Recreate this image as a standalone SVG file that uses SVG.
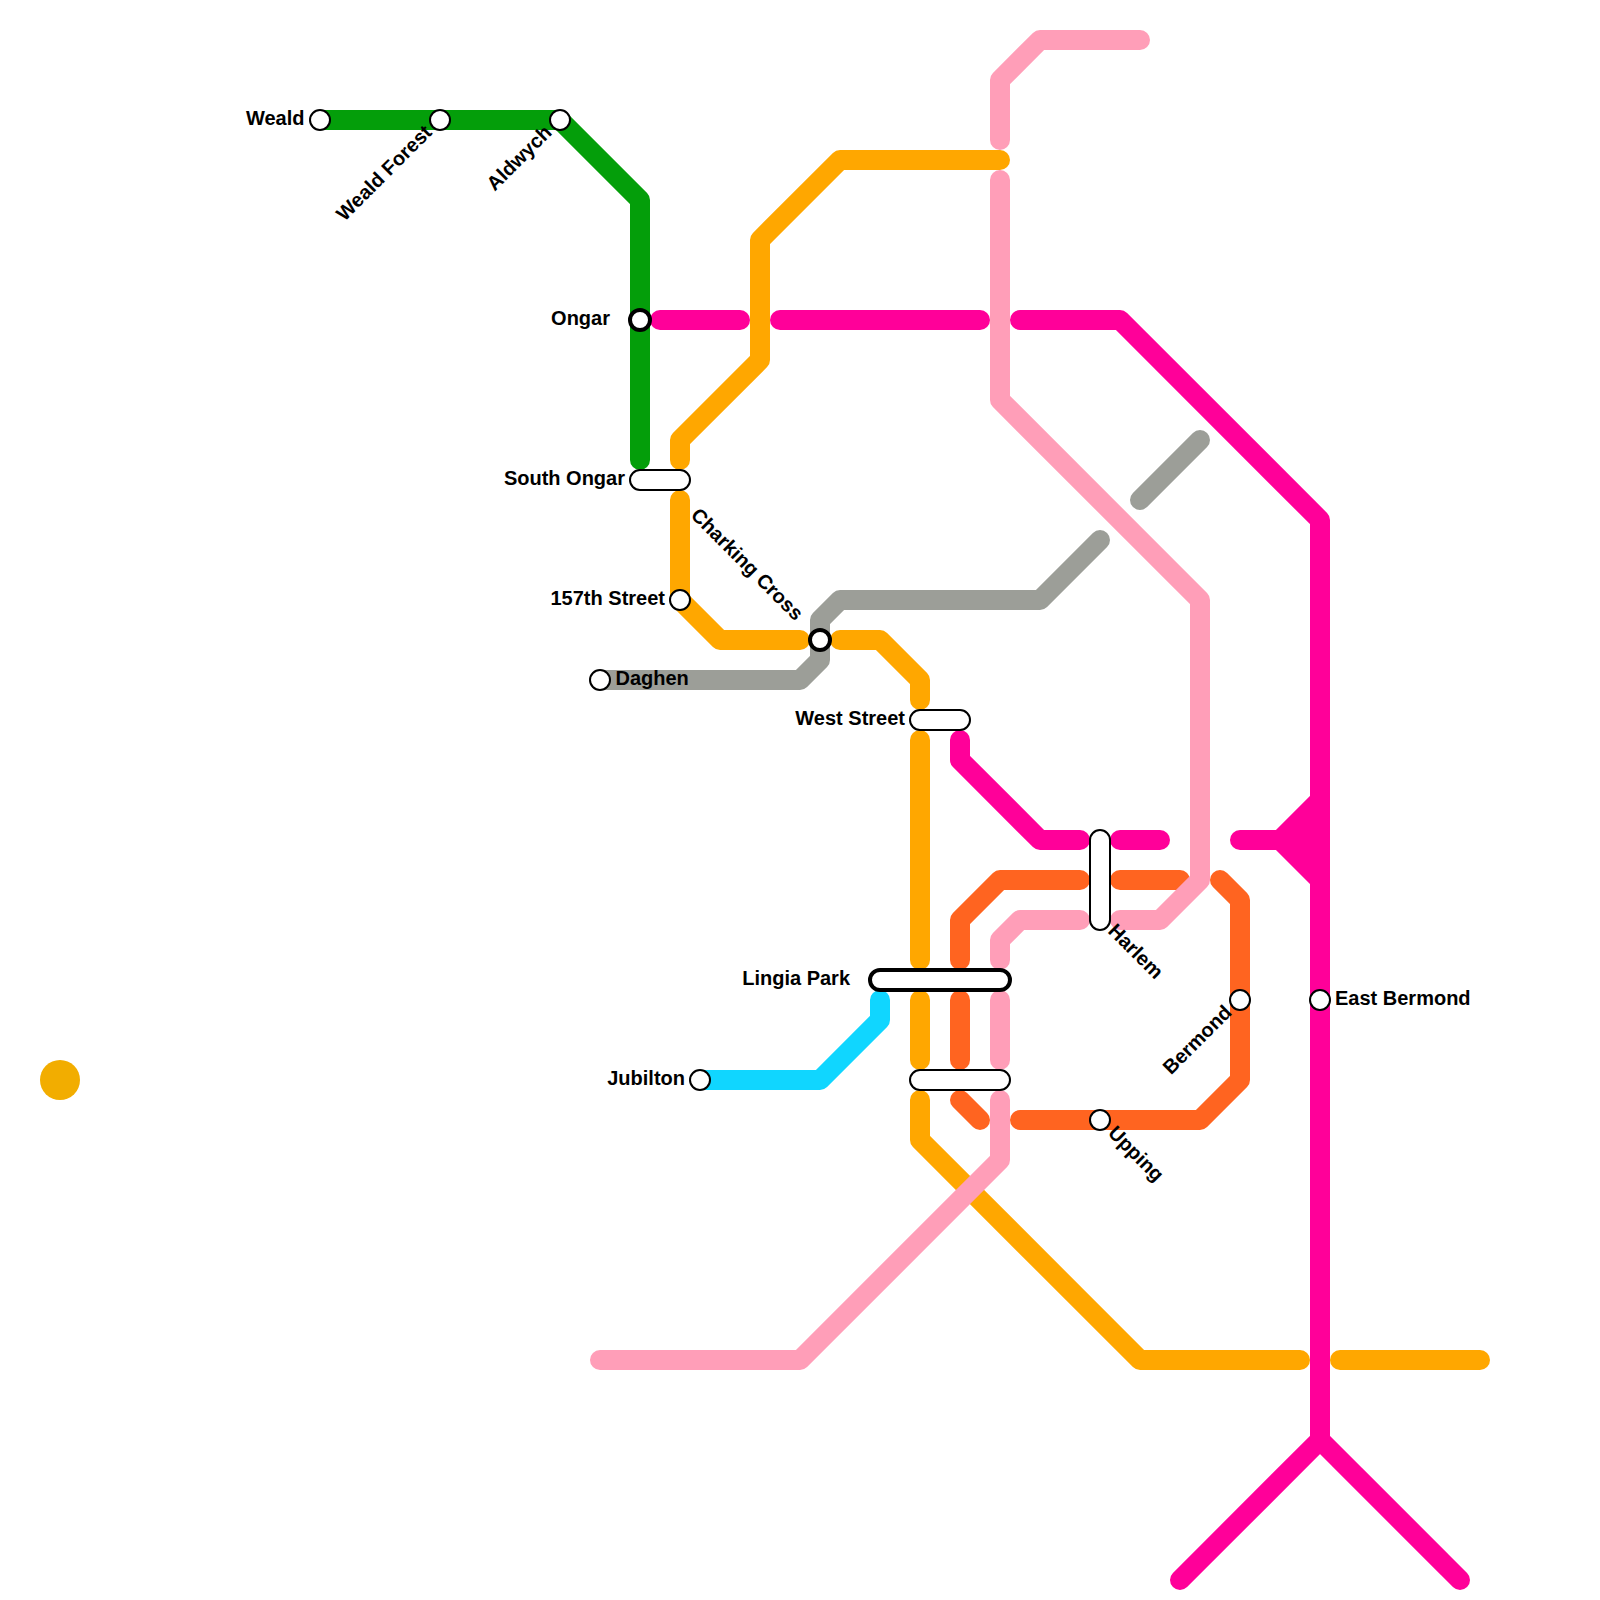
<svg xmlns="http://www.w3.org/2000/svg" width="1600" height="1600" viewBox="0 0 1600 1600">
<style>
.l{fill:none;stroke-width:20;stroke-linecap:round;stroke-linejoin:round}
.green{stroke:#049e0a}.mag{stroke:#ff0099}.amb{stroke:#ffa700}.org{stroke:#ff6420}.pnk{stroke:#ff9eb8}.gry{stroke:#9c9e98}.cyn{stroke:#10d6ff}
.s{fill:#fff;stroke:#000;stroke-width:2}
.x{fill:#fff;stroke:#000;stroke-width:4}
text{font-family:"Liberation Sans",Arial,sans-serif;font-size:20px;font-weight:bold;fill:#000}
.e{text-anchor:end}
</style>
<rect width="1600" height="1600" fill="#fff"/>
<g id="connectors">
<polyline class="l green" points="320,120 560,120 640,200 640,460"/>
<polyline class="l amb" points="680,460 680,440 760,360 760,240 840,160 1000,160"/>
<polyline class="l amb" points="680,500 680,600 720,640 800,640"/>
<polyline class="l amb" points="840,640 880,640 920,680 920,700"/>
<polyline class="l amb" points="920,740 920,960"/>
<polyline class="l amb" points="920,1000 920,1060"/>
<polyline class="l amb" points="920,1100 920,1140 1140,1360 1300,1360"/>
<polyline class="l amb" points="1340,1360 1480,1360"/>
<polyline class="l gry" points="600,680 800,680 820,660 820,620 840,600 1040,600 1100,540"/>
<polyline class="l gry" points="1140,500 1200,440"/>
<polyline class="l cyn" points="700,1080 820,1080 880,1020 880,1000"/>
<polyline class="l org" points="960,960 960,920 1000,880 1080,880"/>
<polyline class="l org" points="1120,880 1180,880"/>
<polyline class="l org" points="960,1000 960,1060"/>
<polyline class="l org" points="960,1100 980,1120"/>
<polyline class="l org" points="1020,1120 1200,1120 1240,1080 1240,900 1220,880"/>
<polyline class="l mag" points="660,320 740,320"/>
<polyline class="l mag" points="780,320 980,320"/>
<polyline class="l mag" points="1020,320 1120,320 1320,520 1320,1440 1180,1580"/>
<polyline class="l mag" points="1320,1440 1460,1580"/>
<polyline class="l mag" points="960,740 960,760 1040,840 1080,840"/>
<polyline class="l mag" points="1120,840 1160,840"/>
<polyline class="l mag" points="1240,840 1280,840 1320,800"/>
<polyline class="l mag" points="1280,840 1320,880"/>
<polygon points="1280,840 1320,800 1320,880" fill="#ff0099"/>
<polyline class="l pnk" points="1000,140 1000,80 1040,40 1140,40"/>
<polyline class="l pnk" points="1000,180 1000,400 1200,600 1200,880 1160,920 1120,920"/>
<polyline class="l pnk" points="1000,960 1000,940 1020,920 1080,920"/>
<polyline class="l pnk" points="1000,1000 1000,1060"/>
<polyline class="l pnk" points="1000,1100 1000,1160 800,1360 600,1360"/>
</g>
<g id="node-disc"><circle cx="60" cy="1080" r="20" fill="#f2ad00"/></g>
<g id="node-weald"><circle class="s" cx="320" cy="120" r="10"/><text class="e" x="304.500" y="125">Weald</text></g>
<g id="node-weald-forest"><circle class="s" cx="440" cy="120" r="10"/><text class="e" transform="translate(433,133.500) rotate(-45)">Weald Forest</text></g>
<g id="node-aldwych"><circle class="s" cx="560" cy="120" r="10"/><text class="e" transform="translate(553,133.500) rotate(-45)">Aldwych</text></g>
<g id="node-ongar"><circle class="x" cx="640" cy="320" r="10"/><text class="e" x="610" y="325">Ongar</text></g>
<g id="node-south-ongar"><rect class="s" x="630" y="470" width="60" height="20" rx="10"/><text class="e" x="625" y="485">South Ongar</text></g>
<g id="node-157th-street"><circle class="s" cx="680" cy="600" r="10"/><text class="e" x="665" y="605">157th Street</text></g>
<g id="node-charking-cross"><circle class="x" cx="820" cy="640" r="10"/><text class="e" transform="translate(795,621.500) rotate(45)">Charking Cross</text></g>
<g id="node-daghen"><circle class="s" cx="600" cy="680" r="10"/><text x="615.500" y="685">Daghen</text></g>
<g id="node-west-street"><rect class="s" x="910" y="710" width="60" height="20" rx="10"/><text class="e" x="905" y="725">West Street</text></g>
<g id="node-harlem"><rect class="s" x="1090" y="830" width="20" height="100" rx="10"/><text transform="translate(1107,932) rotate(45)">Harlem</text></g>
<g id="node-lingia-park"><rect class="x" x="870" y="970" width="140" height="20" rx="10"/><text class="e" x="850" y="985">Lingia Park</text></g>
<g id="node-interchange"><rect class="s" x="910" y="1070" width="100" height="20" rx="10"/></g>
<g id="node-jubilton"><circle class="s" cx="700" cy="1080" r="10"/><text class="e" x="685" y="1085">Jubilton</text></g>
<g id="node-upping"><circle class="s" cx="1100" cy="1120" r="10"/><text transform="translate(1107,1134) rotate(45)">Upping</text></g>
<g id="node-bermond"><circle class="s" cx="1240" cy="1000" r="10"/><text class="e" transform="translate(1233,1013.500) rotate(-45)">Bermond</text></g>
<g id="node-east-bermond"><circle class="s" cx="1320" cy="1000" r="10"/><text x="1335" y="1005">East Bermond</text></g>
</svg>
